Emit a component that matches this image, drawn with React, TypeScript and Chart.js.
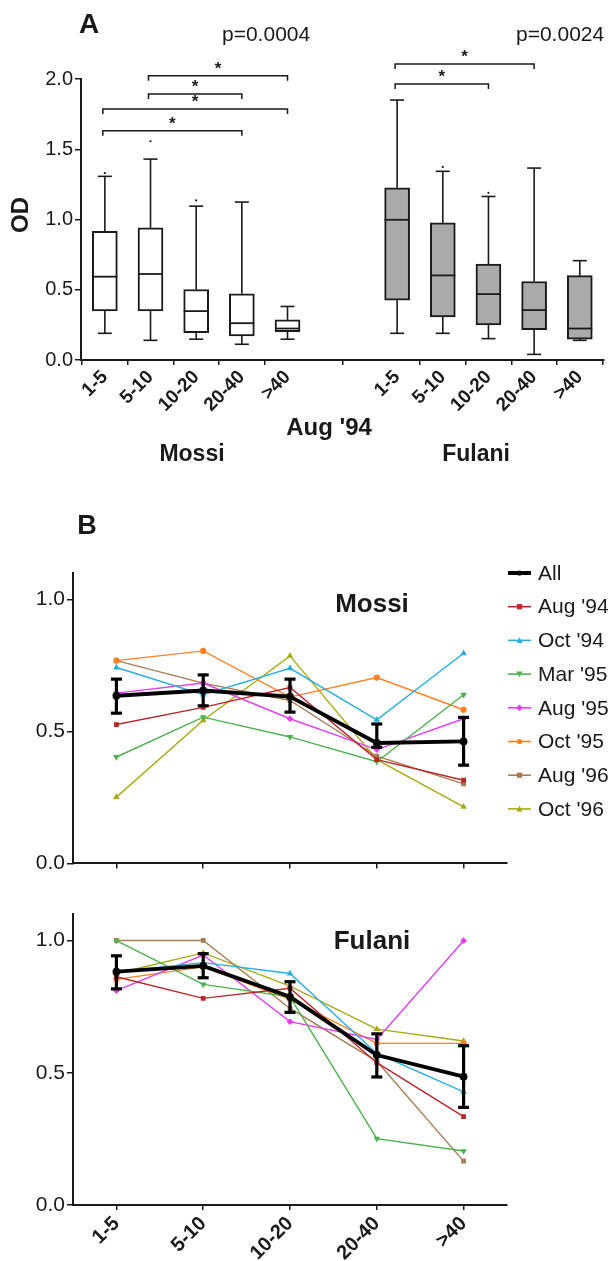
import React, { useEffect, useRef } from "react";
import { Chart, registerables } from "chart.js";
Chart.register(...registerables);

const FONT = "'Liberation Sans', Arial, Helvetica, sans-serif";
const INK = "#1a1a1a";

// ---------- Panel A data ----------
const ageGroups = ["1-5", "5-10", "10-20", "20-40", ">40"];
const mossiPos = [1, 2, 3, 4, 5];
const fulaniPos = [7.4, 8.4, 9.4, 10.4, 11.4];

const mossiMin = [0.19, 0.14, 0.148, 0.112, 0.148];
const mossiQ1 = [0.35, 0.35, 0.195, 0.171, 0.202];
const mossiMed = [0.593, 0.612, 0.348, 0.262, 0.224];
const mossiQ3 = [0.916, 0.94, 0.502, 0.471, 0.286];
const mossiMax = [1.307, 1.43, 1.095, 1.124, 0.381];

const fulaniMin = [0.19, 0.19, 0.152, 0.04, 0.14];
const fulaniQ1 = [0.426, 0.307, 0.25, 0.216, 0.148];
const fulaniMed = [0.998, 0.602, 0.469, 0.355, 0.224];
const fulaniQ3 = [1.226, 0.976, 0.683, 0.559, 0.6];
const fulaniMax = [1.85, 1.343, 1.164, 1.366, 0.707];

// outliers: [group index, value]
const mossiOutliers = [[0, 1.33], [1, 1.557], [2, 1.136]];
const fulaniOutliers = [[1, 1.374], [2, 1.19]];

// significance brackets: [from index, to index, level]
const mossiBrackets = [[1, 4, 2.024], [1, 3, 1.893], [0, 4, 1.786], [0, 3, 1.631]];
const fulaniBrackets = [[0, 3, 2.107], [0, 2, 1.964]];
const pValues = ["p=0.0004", "p=0.0024"];

// ---------- Panel B data ----------
const seasons = ["Aug '94", "Oct '94", "Mar '95", "Aug '95", "Oct '95", "Aug '96", "Oct '96"];
const seasonColors = ["#b8282a", "#2aaee2", "#4db24d", "#e040f2", "#ff8024", "#a87c52", "#a9a914"];
const seasonPoints = ["rect", "triangle", "triangle", "rectRot", "circle", "rect", "triangle"];
const seasonRot = [0, 0, 180, 0, 0, 0, 0];

const mossiAll = [0.635, 0.655, 0.632, 0.456, 0.462];
const mossiAllLow = [0.569, 0.597, 0.573, 0.44, 0.372];
const mossiAllHigh = [0.698, 0.714, 0.698, 0.528, 0.553];
const mossiAug94 = [0.526, 0.591, 0.666, 0.393, 0.315];
const mossiOct94 = [0.742, 0.639, 0.739, 0.544, 0.796];
const mossiMar95 = [0.403, 0.554, 0.479, 0.385, 0.639];
const mossiAug95 = [0.645, 0.683, 0.548, 0.431, 0.548];
const mossiOct95 = [0.768, 0.805, 0.63, 0.704, 0.582];
const mossiAug96 = [0.768, 0.683, 0.617, 0.406, 0.301];
const mossiOct96 = [0.251, 0.542, 0.786, 0.393, 0.214];

const fulaniAll = [0.882, 0.904, 0.787, 0.567, 0.485];
const fulaniAllLow = [0.817, 0.859, 0.728, 0.484, 0.369];
const fulaniAllHigh = [0.942, 0.95, 0.844, 0.647, 0.602];
const fulaniAug94 = [0.863, 0.781, 0.819, 0.538, 0.334];
const fulaniOct94 = [0.882, 0.916, 0.875, 0.573, 0.428];
const fulaniMar95 = [0.999, 0.834, 0.787, 0.251, 0.204];
const fulaniAug95 = [0.81, 0.945, 0.693, 0.626, 0.999];
const fulaniOct95 = [0.853, 0.9, 0.777, 0.611, 0.611];
const fulaniAug96 = [1.0, 1.0, 0.743, 0.543, 0.166];
const fulaniOct96 = [0.875, 0.953, 0.827, 0.665, 0.62];

const mossiSeries = [mossiAug94, mossiOct94, mossiMar95, mossiAug95, mossiOct95, mossiAug96, mossiOct96];
const fulaniSeries = [fulaniAug94, fulaniOct94, fulaniMar95, fulaniAug95, fulaniOct95, fulaniAug96, fulaniOct96];

function line(ctx: CanvasRenderingContext2D, x1: number, y1: number, x2: number, y2: number) {
  ctx.beginPath();
  ctx.moveTo(x1, y1);
  ctx.lineTo(x2, y2);
  ctx.stroke();
}

function text(ctx: CanvasRenderingContext2D, s: string, x: number, y: number, font: string, align: CanvasTextAlign = "center", base: CanvasTextBaseline = "middle") {
  ctx.font = font;
  ctx.fillStyle = INK;
  ctx.textAlign = align;
  ctx.textBaseline = base;
  ctx.fillText(s, x, y);
}

// ---------- Panel A plugin ----------
const boxPlugin = {
  id: "boxA",
  afterDatasetsDraw(chart: any) {
    const { ctx, scales } = chart;
    const xs = scales.x, ys = scales.y;
    const groups = [
      { pos: mossiPos, mn: mossiMin, md: mossiMed, q1: mossiQ1, q3: mossiQ3, mx: mossiMax },
      { pos: fulaniPos, mn: fulaniMin, md: fulaniMed, q1: fulaniQ1, q3: fulaniQ3, mx: fulaniMax },
    ];
    ctx.save();
    ctx.strokeStyle = INK;
    ctx.lineCap = "butt";
    for (const g of groups) {
      for (let i = 0; i < g.pos.length; i++) {
        const px = xs.getPixelForValue(g.pos[i]);
        const half = 12.5, cap = 7;
        ctx.lineWidth = 1.6;
        line(ctx, px, ys.getPixelForValue(g.q3[i]), px, ys.getPixelForValue(g.mx[i]));
        line(ctx, px - cap, ys.getPixelForValue(g.mx[i]), px + cap, ys.getPixelForValue(g.mx[i]));
        line(ctx, px, ys.getPixelForValue(g.q1[i]), px, ys.getPixelForValue(g.mn[i]));
        line(ctx, px - cap, ys.getPixelForValue(g.mn[i]), px + cap, ys.getPixelForValue(g.mn[i]));
        ctx.lineWidth = 1.8;
        line(ctx, px - half, ys.getPixelForValue(g.md[i]), px + half, ys.getPixelForValue(g.md[i]));
      }
    }
    ctx.restore();
  },
  afterDraw(chart: any) {
    const { ctx, scales } = chart;
    const xs = scales.x, ys = scales.y;
    ctx.save();
    ctx.strokeStyle = INK;
    ctx.lineWidth = 1.5;
    const sets: [number[], number[][]][] = [[mossiPos, mossiBrackets], [fulaniPos, fulaniBrackets]];
    for (const [pos, br] of sets) {
      for (const [a, b, lvl] of br) {
        const x1 = xs.getPixelForValue(pos[a]) - 2;
        const x2 = xs.getPixelForValue(pos[b]);
        const yy = ys.getPixelForValue(lvl);
        ctx.beginPath();
        ctx.moveTo(x1, yy + 5);
        ctx.lineTo(x1, yy);
        ctx.lineTo(x2, yy);
        ctx.lineTo(x2, yy + 5);
        ctx.stroke();
        text(ctx, "*", (x1 + x2) / 2, yy - 2, `bold 17px ${FONT}`, "center", "alphabetic");
      }
    }
    text(ctx, "A", 89, 25, `bold 28px ${FONT}`);
    text(ctx, pValues[0], 222, 41, `21px ${FONT}`, "left", "alphabetic");
    text(ctx, pValues[1], 516, 41, `21px ${FONT}`, "left", "alphabetic");
    ctx.save();
    ctx.translate(21, 215);
    ctx.rotate(-Math.PI / 2);
    text(ctx, "OD", 0, 0, `bold 24px ${FONT}`);
    ctx.restore();
    text(ctx, "Aug '94", 329, 428, `bold 24px ${FONT}`);
    text(ctx, "Mossi", 192, 455, `bold 23px ${FONT}`);
    text(ctx, "Fulani", 476, 455, `bold 23px ${FONT}`);
    ctx.restore();
  },
};

// ---------- Panel B plugin ----------
function makeLinePlugin(title: string, titleY: number, low: number[], high: number[], withLegend: boolean) {
  return {
    id: "lineB" + title,
    afterDatasetsDraw(chart: any) {
      const { ctx, scales } = chart;
      const xs = scales.x, ys = scales.y;
      ctx.save();
      ctx.strokeStyle = "#000";
      ctx.lineWidth = 3.2;
      for (let i = 0; i < low.length; i++) {
        const px = xs.getPixelForValue(i);
        const yl = ys.getPixelForValue(low[i]);
        const yh = ys.getPixelForValue(high[i]);
        line(ctx, px, yl, px, yh);
        line(ctx, px - 5.5, yl, px + 5.5, yl);
        line(ctx, px - 5.5, yh, px + 5.5, yh);
      }
      ctx.restore();
    },
    afterDraw(chart: any) {
      const { ctx } = chart;
      ctx.save();
      text(ctx, title, 372, titleY, `bold 26px ${FONT}`);
      if (withLegend) {
        text(ctx, "B", 87, 27, `bold 27px ${FONT}`);
        const names = ["All", ...seasons];
        const cols = ["#000", ...seasonColors];
        for (let i = 0; i < names.length; i++) {
          const yy = 73 + i * 33.7;
          ctx.strokeStyle = cols[i];
          ctx.fillStyle = cols[i];
          ctx.lineWidth = i === 0 ? 4 : 1.6;
          line(ctx, 508, yy, 531, yy);
          const mx = 519.5;
          const ps = i === 0 ? "circle" : seasonPoints[i - 1];
          const rot = i === 0 ? 0 : seasonRot[i - 1];
          const r = 2.6;
          ctx.beginPath();
          if (ps === "circle") ctx.arc(mx, yy, r, 0, Math.PI * 2);
          else if (ps === "rect") ctx.rect(mx - r, yy - r, 2 * r, 2 * r);
          else if (ps === "rectRot") { ctx.moveTo(mx, yy - r * 1.3); ctx.lineTo(mx + r * 1.3, yy); ctx.lineTo(mx, yy + r * 1.3); ctx.lineTo(mx - r * 1.3, yy); ctx.closePath(); }
          else if (rot === 180) { ctx.moveTo(mx - r * 1.2, yy - r); ctx.lineTo(mx + r * 1.2, yy - r); ctx.lineTo(mx, yy + r * 1.2); ctx.closePath(); }
          else { ctx.moveTo(mx - r * 1.2, yy + r); ctx.lineTo(mx + r * 1.2, yy + r); ctx.lineTo(mx, yy - r * 1.2); ctx.closePath(); }
          ctx.fill();
          text(ctx, names[i], 538, yy + 1, `21px ${FONT}`, "left", "middle");
        }
      }
      ctx.restore();
    },
  };
}

function lineConfig(all: number[], series: number[][], plugin: any, padTop: number, xHeight: number, showLabels: boolean) {
  const datasets: any[] = [
    {
      label: "All",
      data: all,
      borderColor: "#000",
      backgroundColor: "#000",
      borderWidth: 3.8,
      pointRadius: 2,
      pointStyle: "circle",
      order: 0,
    },
    ...series.map((d, i) => ({
      label: seasons[i],
      data: d,
      borderColor: seasonColors[i],
      backgroundColor: seasonColors[i],
      borderWidth: 1.4,
      pointRadius: 2.4,
      pointStyle: seasonPoints[i],
      rotation: seasonRot[i],
      order: 1,
    })),
  ];
  return {
    type: "line",
    data: { labels: ageGroups, datasets },
    plugins: [plugin],
    options: {
      animation: false,
      responsive: false,
      events: [],
      layout: { padding: { top: padTop, right: 101, left: 0, bottom: 0 } },
      plugins: { legend: { display: false }, tooltip: { enabled: false } },
      elements: { line: { tension: 0 } },
      scales: {
        x: {
          type: "category",
          offset: true,
          grid: { drawOnChartArea: false, drawTicks: true, tickLength: 5, color: INK, lineWidth: 1.5 },
          border: { display: true, color: INK, width: 2 },
          ticks: {
            display: true,
            autoSkip: false,
            minRotation: 45,
            maxRotation: 45,
            padding: 2,
            color: INK,
            font: { family: FONT, size: 20, weight: "bold" },
            callback: (v: any, i: number) => (showLabels ? ageGroups[i] : ""),
          },
          afterFit: (s: any) => { s.height = xHeight; },
        },
        y: {
          min: 0,
          max: 1.1,
          grid: { drawOnChartArea: false, drawTicks: true, tickLength: 6, color: INK, lineWidth: 1.5 },
          border: { display: true, color: INK, width: 2 },
          afterBuildTicks: (s: any) => { s.ticks = [0, 0.5, 1.0].map((v) => ({ value: v })); },
          ticks: {
            color: INK,
            padding: 2,
            font: { family: FONT, size: 21 },
            callback: (v: any) => Number(v).toFixed(1),
          },
          afterFit: (s: any) => { s.width = 73; },
        },
      },
    },
  };
}

function boxConfig() {
  const labelFor = (v: number) => {
    let i = mossiPos.findIndex((p) => Math.abs(p - v) < 1e-6);
    if (i >= 0) return ageGroups[i];
    i = fulaniPos.findIndex((p) => Math.abs(p - v) < 1e-6);
    return i >= 0 ? ageGroups[i] : "";
  };
  return {
    type: "bar",
    data: {
      datasets: [
        {
          label: "Mossi",
          data: mossiPos.map((x, i) => ({ x, y: [mossiQ1[i], mossiQ3[i]] })),
          backgroundColor: "#ffffff",
          borderColor: INK,
          borderWidth: 2,
          borderSkipped: false,
          barThickness: 25,
          grouped: false,
        },
        {
          label: "Fulani",
          data: fulaniPos.map((x, i) => ({ x, y: [fulaniQ1[i], fulaniQ3[i]] })),
          backgroundColor: "#aaaaaa",
          borderColor: INK,
          borderWidth: 2,
          borderSkipped: false,
          barThickness: 25,
          grouped: false,
        },
        {
          type: "scatter",
          label: "outliers",
          data: [
            ...mossiOutliers.map(([g, v]) => ({ x: mossiPos[g], y: v })),
            ...fulaniOutliers.map(([g, v]) => ({ x: fulaniPos[g], y: v })),
          ],
          backgroundColor: INK,
          borderColor: INK,
          pointRadius: 1.1,
          borderWidth: 0,
        },
      ],
    },
    plugins: [boxPlugin],
    options: {
      animation: false,
      responsive: false,
      events: [],
      layout: { padding: { top: 79, right: 0, left: 0, bottom: 0 } },
      plugins: { legend: { display: false }, tooltip: { enabled: false } },
      scales: {
        x: {
          type: "linear",
          min: 0.478,
          max: 11.93,
          offset: false,
          grid: { drawOnChartArea: false, drawTicks: true, tickLength: 5, color: INK, lineWidth: 1.5 },
          border: { display: true, color: INK, width: 2 },
          afterBuildTicks: (s: any) => { s.ticks = [...mossiPos, ...fulaniPos].map((v) => ({ value: v })); },
          ticks: {
            autoSkip: false,
            minRotation: 45,
            maxRotation: 45,
            padding: 1,
            color: INK,
            font: { family: FONT, size: 19, weight: "bold" },
            callback: (v: any) => labelFor(Number(v)),
          },
          afterFit: (s: any) => { s.height = 120; },
        },
        y: {
          min: 0,
          max: 2,
          grid: { drawOnChartArea: false, drawTicks: true, tickLength: 6, color: INK, lineWidth: 1.5 },
          border: { display: true, color: INK, width: 2 },
          afterBuildTicks: (s: any) => { s.ticks = [0, 0.5, 1, 1.5, 2].map((v) => ({ value: v })); },
          ticks: {
            color: INK,
            padding: 2,
            font: { family: FONT, size: 20 },
            callback: (v: any) => Number(v).toFixed(1),
          },
          afterFit: (s: any) => { s.width = 81; },
        },
      },
    },
  };
}

export default function App() {
  const refA = useRef<HTMLCanvasElement>(null);
  const refM = useRef<HTMLCanvasElement>(null);
  const refF = useRef<HTMLCanvasElement>(null);

  useEffect(() => {
    const charts: Chart[] = [];
    charts.push(new Chart(refA.current as HTMLCanvasElement, boxConfig() as any));
    charts.push(new Chart(refM.current as HTMLCanvasElement, lineConfig(mossiAll, mossiSeries, makeLinePlugin("Mossi", 105, mossiAllLow, mossiAllHigh, true), 73, 14, false) as any));
    charts.push(new Chart(refF.current as HTMLCanvasElement, lineConfig(fulaniAll, fulaniSeries, makeLinePlugin("Fulani", 62, fulaniAllLow, fulaniAllHigh, false), 34, 56, true) as any));
    return () => charts.forEach((c) => c.destroy());
  }, []);

  return (
    <div style={{ position: "absolute", left: 0, top: 0, width: 608, height: 1261, background: "#fff", overflow: "hidden" }}>
      <canvas ref={refA} width={608} height={480} style={{ position: "absolute", left: 0, top: 0 }} />
      <canvas ref={refM} width={608} height={378} style={{ position: "absolute", left: 0, top: 500 }} />
      <canvas ref={refF} width={608} height={381} style={{ position: "absolute", left: 0, top: 880 }} />
    </div>
  );
}
